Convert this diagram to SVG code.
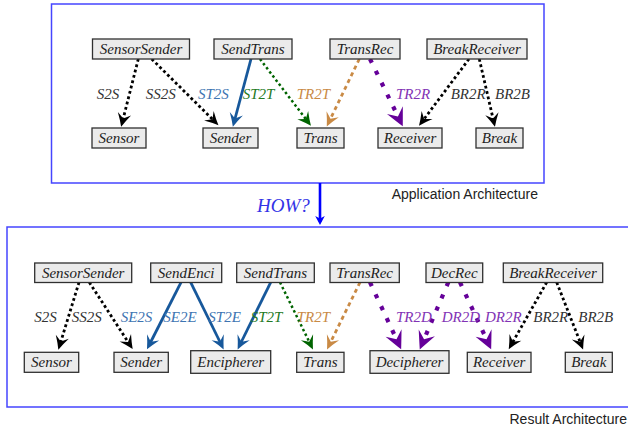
<svg xmlns="http://www.w3.org/2000/svg" width="628" height="435" viewBox="0 0 628 435">
<style>
.frame{fill:none;stroke:#4545ff;stroke-width:1.5}
.nb{fill:#ebebeb;stroke:#303030;stroke-width:1.3}
.nt{font-family:'Liberation Serif','Times New Roman',serif;font-style:italic;font-size:15px;fill:#222;text-anchor:middle}
.lb{font-family:'Liberation Serif','Times New Roman',serif;font-style:italic;font-size:15px;fill:#333}
.cap{font-family:'Liberation Sans',Arial,sans-serif;font-size:14px;fill:#222;text-anchor:end}
.k{fill:none;stroke:#000;stroke-width:2.8;stroke-dasharray:2.8 2.7;marker-end:url(#ak)}
.b{fill:none;stroke:#17589b;stroke-width:2.8;marker-end:url(#ab)}
.g{fill:none;stroke:#006400;stroke-width:2.5;stroke-dasharray:2.5 2.7;marker-end:url(#ag)}
.o{fill:none;stroke:#c98a45;stroke-width:2.8;stroke-dasharray:4 3.5;marker-end:url(#ao)}
.p{fill:none;stroke:#650099;stroke-width:4.2;stroke-dasharray:4.2 9;marker-end:url(#ap)}
.lbl-b{fill:#3d74b2}.lbl-g{fill:#237a23}.lbl-o{fill:#c98a45}.lbl-p{fill:#8233b5}
</style>
<defs>
<marker id="ak" viewBox="-9 -8 17 16" refX="0" refY="0" markerWidth="17" markerHeight="16" markerUnits="userSpaceOnUse" orient="auto"><path d="M6,0 Q0,-2.5 -7.5,-6.8 L-2.5,0 L-7.5,6.8 Q0,2.5 6,0Z" fill="#000"/></marker>
<marker id="ab" viewBox="-9 -8 17 16" refX="0" refY="0" markerWidth="17" markerHeight="16" markerUnits="userSpaceOnUse" orient="auto"><path d="M6,0 Q0,-2.5 -7.5,-6.8 L-2.5,0 L-7.5,6.8 Q0,2.5 6,0Z" fill="#17589b"/></marker>
<marker id="ag" viewBox="-9 -8 17 16" refX="0" refY="0" markerWidth="17" markerHeight="16" markerUnits="userSpaceOnUse" orient="auto"><path d="M6,0 Q0,-2.5 -7.5,-6.8 L-2.5,0 L-7.5,6.8 Q0,2.5 6,0Z" fill="#006400"/></marker>
<marker id="ao" viewBox="-9 -8 17 16" refX="0" refY="0" markerWidth="17" markerHeight="16" markerUnits="userSpaceOnUse" orient="auto"><path d="M6,0 Q0,-2.5 -7.5,-6.8 L-2.5,0 L-7.5,6.8 Q0,2.5 6,0Z" fill="#c98a45"/></marker>
<marker id="ap" viewBox="-13 -10 22 20" refX="0" refY="0" markerWidth="22" markerHeight="20" markerUnits="userSpaceOnUse" orient="auto"><path d="M7,0 Q0,-3.5 -11,-8.8 L-4,0 L-11,8.8 Q0,3.5 7,0Z" fill="#650099"/></marker>
<marker id="ah" viewBox="-8 -6 12 12" refX="0" refY="0" markerWidth="12" markerHeight="12" markerUnits="userSpaceOnUse" orient="auto"><path d="M3,0 L-6,-4.8 L-3.5,0 L-6,4.8Z" fill="#0000ff"/></marker>
</defs>

<rect class="frame" x="51.5" y="4" width="492.5" height="179"/>
<text class="cap" x="538" y="199">Application Architecture</text>
<rect class="frame" x="7" y="227" width="640" height="180"/>
<text class="cap" x="627" y="424">Result Architecture</text>

<g id="how">
<line x1="320" y1="183" x2="320" y2="222" stroke="#0000ff" stroke-width="2.6" marker-end="url(#ah)"/>
<text x="257" y="212" font-family="Liberation Serif, serif" font-style="italic" font-size="19" fill="#3333e6">HOW?</text>
</g>

<g id="connectors">
<path class="k" d="M138.3,59 L122.6,121"/>
<path class="k" d="M151.7,59 L214.2,121"/>
<path class="b" d="M251,59 L234.4,121"/>
<path class="g" d="M260,59 L307.3,121"/>
<path class="o" d="M359.3,59 L329.4,121"/>
<path class="p" d="M370,59 L399.7,120"/>
<path class="k" d="M469,59 L422.6,121"/>
<path class="k" d="M479.3,59 L493.6,121"/>

<path class="k" d="M79,282.3 L60.1,344"/>
<path class="k" d="M89.3,282.3 L129.4,344"/>
<path class="b" d="M181,282.3 L149.7,344"/>
<path class="b" d="M190.7,282.3 L221,344"/>
<path class="b" d="M270.7,282.3 L240.3,344"/>
<path class="g" d="M280,282.3 L310.3,344"/>
<path class="o" d="M360,282.3 L329.7,344"/>
<path class="p" d="M370,282.3 L398.2,343"/>
<path class="p" d="M448.3,282.3 L422.5,343"/>
<path class="p" d="M460,282.3 L488.2,343"/>
<path class="k" d="M546.7,282.3 L511.7,344"/>
<path class="k" d="M556.7,282.3 L580.9,344"/>

<text class="lb" x="96.7" y="99">S2S</text>
<text class="lb" x="145.7" y="99">SS2S</text>
<text class="lb lbl-b" x="198" y="99">ST2S</text>
<text class="lb lbl-g" x="242.7" y="99">ST2T</text>
<text class="lb lbl-o" x="296.7" y="99">TR2T</text>
<text class="lb lbl-p" x="396" y="99">TR2R</text>
<text class="lb" x="450.7" y="99">BR2R</text>
<text class="lb" x="495" y="99">BR2B</text>

<text class="lb" x="34.3" y="322">S2S</text>
<text class="lb" x="71.7" y="322">SS2S</text>
<text class="lb lbl-b" x="120.7" y="322">SE2S</text>
<text class="lb lbl-b" x="163.3" y="322">SE2E</text>
<text class="lb lbl-b" x="208.3" y="322">ST2E</text>
<text class="lb lbl-g" x="250.7" y="322">ST2T</text>
<text class="lb lbl-o" x="296.7" y="322">TR2T</text>
<text class="lb lbl-p" x="396" y="322">TR2D</text>
<text class="lb lbl-p" x="441.7" y="322">DR2D</text>
<text class="lb lbl-p" x="485" y="322">DR2R</text>
<text class="lb" x="533.3" y="322">BR2R</text>
<text class="lb" x="578.3" y="322">BR2B</text>
</g>

<g id="a-SensorSender"><rect class="nb" x="92.5" y="39" width="97" height="20"/><text class="nt" x="141" y="54">SensorSender</text></g>
<g id="a-SendTrans"><rect class="nb" x="214" y="39" width="78" height="20"/><text class="nt" x="253" y="54">SendTrans</text></g>
<g id="a-TransRec"><rect class="nb" x="330" y="39" width="70" height="20"/><text class="nt" x="365" y="54">TransRec</text></g>
<g id="a-BreakReceiver"><rect class="nb" x="427" y="39" width="100" height="20"/><text class="nt" x="477" y="54">BreakReceiver</text></g>
<g id="a-Sensor"><rect class="nb" x="92" y="128" width="54" height="20"/><text class="nt" x="119" y="143">Sensor</text></g>
<g id="a-Sender"><rect class="nb" x="203" y="128" width="55" height="20"/><text class="nt" x="230.5" y="143">Sender</text></g>
<g id="a-Trans"><rect class="nb" x="297" y="128" width="47" height="20"/><text class="nt" x="320.5" y="143">Trans</text></g>
<g id="a-Receiver"><rect class="nb" x="378" y="128" width="64" height="20"/><text class="nt" x="410" y="143">Receiver</text></g>
<g id="a-Break"><rect class="nb" x="476" y="128" width="47" height="20"/><text class="nt" x="499.5" y="143">Break</text></g>

<g id="r-SensorSender"><rect class="nb" x="34.7" y="263" width="97" height="19.5"/><text class="nt" x="83.2" y="278">SensorSender</text></g>
<g id="r-SendEnci"><rect class="nb" x="150.7" y="263" width="71" height="19.5"/><text class="nt" x="186.2" y="278">SendEnci</text></g>
<g id="r-SendTrans"><rect class="nb" x="236.7" y="263" width="77.6" height="19.5"/><text class="nt" x="275.5" y="278">SendTrans</text></g>
<g id="r-TransRec"><rect class="nb" x="330" y="263" width="69.3" height="19.5"/><text class="nt" x="364.7" y="278">TransRec</text></g>
<g id="r-DecRec"><rect class="nb" x="426" y="263" width="56.7" height="19.5"/><text class="nt" x="454.3" y="278">DecRec</text></g>
<g id="r-BreakReceiver"><rect class="nb" x="503.3" y="263" width="99.4" height="19.5"/><text class="nt" x="553" y="278">BreakReceiver</text></g>
<g id="r-Sensor"><rect class="nb" x="24.3" y="352.3" width="54.4" height="20"/><text class="nt" x="51.5" y="367">Sensor</text></g>
<g id="r-Sender"><rect class="nb" x="114" y="352.3" width="54.3" height="20"/><text class="nt" x="141.2" y="367">Sender</text></g>
<g id="r-Encipherer"><rect class="nb" x="190.7" y="350.7" width="80" height="22.6"/><text class="nt" x="230.7" y="366.5">Encipherer</text></g>
<g id="r-Trans"><rect class="nb" x="296.7" y="352.3" width="47.3" height="20"/><text class="nt" x="320.4" y="367">Trans</text></g>
<g id="r-Decipherer"><rect class="nb" x="370" y="350.7" width="79" height="22.6"/><text class="nt" x="409.5" y="366.5">Decipherer</text></g>
<g id="r-Receiver"><rect class="nb" x="467.3" y="352.3" width="63.7" height="20"/><text class="nt" x="499.2" y="367">Receiver</text></g>
<g id="r-Break"><rect class="nb" x="565.3" y="352.3" width="47" height="20"/><text class="nt" x="588.8" y="367">Break</text></g>
</svg>
